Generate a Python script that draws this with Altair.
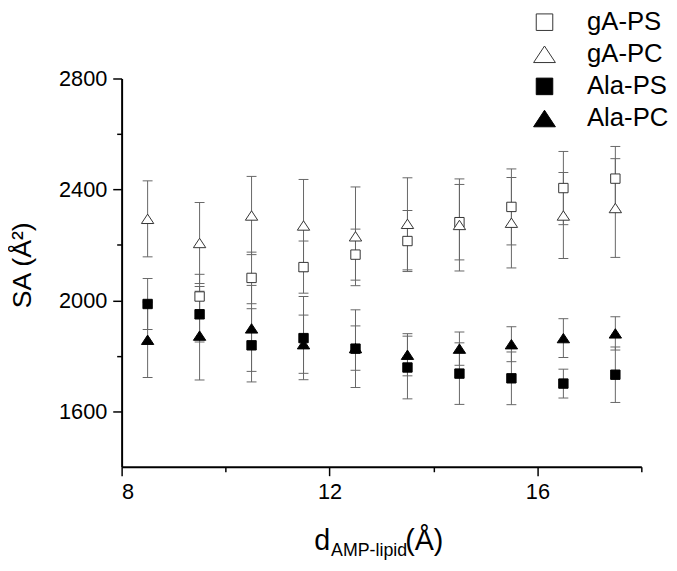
import altair as alt
import pandas as pd

# ---------------- data ----------------
x_vals = [8.5, 9.5, 10.5, 11.5, 12.5, 13.5, 14.5, 15.5, 16.5, 17.5]
series_names = ["gA-PS", "gA-PC", "Ala-PS", "Ala-PC"]

gA_PS = [None, 2014, 2081, 2120, 2165, 2214, 2282, 2337, 2405, 2439]
gA_PS_err = [None, 80, 93, 94, 92, 110, 136, 137, 132, 116]
gA_PC = [2294, 2207, 2306, 2270, 2231, 2276, 2272, 2280, 2306, 2333]
gA_PC_err = [137, 146, 141, 166, 178, 166, 166, 163, 155, 178]
Ala_PS = [1987, 1950, 1838, 1864, 1826, 1758, 1736, 1719, 1700, 1732]
Ala_PS_err = [92, 100, 132, 150, 140, 113, 111, 95, 52, 100]
Ala_PC = [1858, 1873, 1899, 1842, 1828, 1804, 1826, 1842, 1864, 1881]
Ala_PC_err = [136, 160, 155, 105, 80, 76, 60, 63, 70, 60]

x_ticks = [8, 10, 12, 14, 16, 18]
y_ticks = [1600, 1800, 2000, 2200, 2400, 2600, 2800]
x_domain = [8, 18]
y_domain = [1400, 2800]

y_title = "SA (Å²)"
x_title_main = "d"
x_title_sub = "AMP-lipid"
x_title_unit = "(Å)"

# ---------------- table ----------------
rows = []
for name, vals, errs in [
    ("gA-PS", gA_PS, gA_PS_err),
    ("gA-PC", gA_PC, gA_PC_err),
    ("Ala-PS", Ala_PS, Ala_PS_err),
    ("Ala-PC", Ala_PC, Ala_PC_err),
]:
    for xv, yv, ev in zip(x_vals, vals, errs):
        if yv is None:
            continue
        rows.append({"series": name, "x": xv, "y": yv, "err": ev})
df = pd.DataFrame(rows)

FONT = "Liberation Sans"
SQUARE = "M-1,-1L1,-1L1,1L-1,1Z"
TRIANGLE = "M0,-1L1.32,1L-1.32,1Z"

x_axis = alt.Axis(
    values=x_ticks,
    format="d",
    title=None,
    grid=False,
    tickSize={"condition": {"test": "datum.value % 4 === 0", "value": 9}, "value": 5},
    labelExpr="datum.value % 4 === 0 ? datum.label : ''",
    labelPadding=6,
)
y_axis = alt.Axis(
    values=y_ticks,
    format="d",
    title=None,
    grid=False,
    tickSize={"condition": {"test": "datum.value % 400 === 0", "value": 9}, "value": 5},
    labelExpr="datum.value % 400 === 0 ? datum.label : ''",
    labelPadding=6,
)
xs = alt.Scale(domain=x_domain, nice=False, zero=False)
ys = alt.Scale(domain=y_domain, nice=False, zero=False)

base = alt.Chart(df).transform_calculate(
    lo="datum.y - datum.err", hi="datum.y + datum.err"
)

bars = base.mark_rule(color="#666666", strokeWidth=1).encode(
    x=alt.X("x:Q", scale=xs, axis=x_axis),
    y=alt.Y("lo:Q", scale=ys, axis=y_axis),
    y2="hi:Q",
)

caps = base.transform_fold(["lo", "hi"], as_=["end", "val"]).mark_tick(
    orient="horizontal", size=10, thickness=1, color="#666666", opacity=1
).encode(
    x=alt.X("x:Q", scale=xs, axis=x_axis),
    y=alt.Y("val:Q", scale=ys, axis=y_axis),
)

legend = alt.Legend(
    title=None,
    orient="none",
    legendX=415,
    legendY=-70,
    symbolSize=280,
    symbolStrokeWidth=1,
    labelFont=FONT,
    labelFontSize=26,
    labelColor="black",
    labelOffset=30,
    rowPadding=6.5,
    padding=0,
)

points = base.mark_point(
    filled=True, size=90, strokeWidth=1, opacity=1
).encode(
    x=alt.X("x:Q", scale=xs, axis=x_axis),
    y=alt.Y("y:Q", scale=ys, axis=y_axis),
    shape=alt.Shape(
        "series:N",
        scale=alt.Scale(domain=series_names, range=[SQUARE, TRIANGLE, SQUARE, TRIANGLE]),
        legend=legend,
    ),
    fill=alt.Fill(
        "series:N",
        scale=alt.Scale(domain=series_names, range=["white", "white", "black", "black"]),
        legend=legend,
    ),
    stroke=alt.Stroke(
        "series:N",
        scale=alt.Scale(domain=series_names, range=["#333333", "#333333", "black", "black"]),
        legend=legend,
    ),
)

one = pd.DataFrame({"k": [0]})
t_main = alt.Chart(one).mark_text(
    text=x_title_main, font=FONT, fontSize=29, align="left", baseline="alphabetic", color="black"
).encode(x=alt.value(195), y=alt.value(477))
t_sub = alt.Chart(one).mark_text(
    text=x_title_sub, font=FONT, fontSize=18, align="left", baseline="alphabetic", color="black"
).encode(x=alt.value(212), y=alt.value(483))
t_unit = alt.Chart(one).mark_text(
    text=x_title_unit, font=FONT, fontSize=29, align="left", baseline="alphabetic", color="black"
).encode(x=alt.value(287), y=alt.value(477))
t_y = alt.Chart(one).mark_text(
    text=y_title, font=FONT, fontSize=27, angle=270, align="center", baseline="middle", color="black"
).encode(x=alt.value(-100), y=alt.value(189))

chart = alt.layer(bars, caps, points, t_main, t_sub, t_unit, t_y).properties(
    width=526,
    height=393,
    padding={"left": 115, "top": 68, "right": 28, "bottom": 93},
    autosize=alt.AutoSizeParams(type="none"),
).configure_view(stroke=None).configure_axis(
    domainColor="black",
    domainWidth=2,
    tickColor="black",
    tickWidth=1.5,
    labelFont=FONT,
    labelFontSize=22,
    labelColor="black",
)

chart.save("out.html", embed_options={"renderer": "svg", "actions": False})
